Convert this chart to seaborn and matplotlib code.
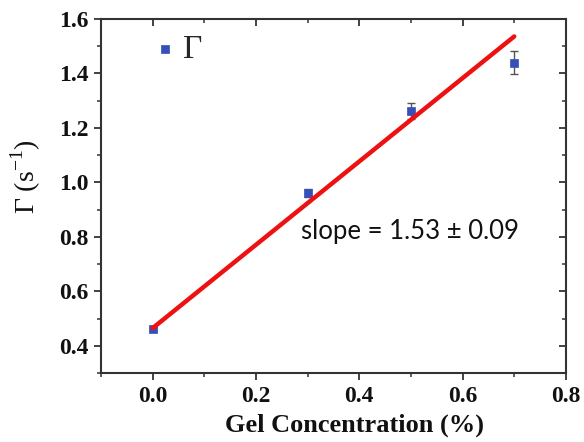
import numpy as np
import pandas as pd
import matplotlib
matplotlib.use("Agg")
import matplotlib.pyplot as plt
import seaborn as sns
from matplotlib.ticker import MultipleLocator

# Relaxation rate vs. gel concentration
gel_conc = [0.0, 0.3, 0.5, 0.7]
gamma = [0.46, 0.961, 1.262, 1.44]
gamma_err = [0.006, 0.015, 0.03, 0.042]

# Linear fit parameters
fit_slope = 1.53
fit_slope_err = 0.09
fit_intercept = 0.465
fit_x = [0.0, 0.7]

sns.set_theme(style="ticks")
plt.rcParams["font.family"] = ["Liberation Serif", "DejaVu Serif"]
plt.rcParams["mathtext.fontset"] = "custom"
plt.rcParams["mathtext.rm"] = "Liberation Serif"
plt.rcParams["axes.unicode_minus"] = False

df = pd.DataFrame({"conc": gel_conc, "gamma": gamma, "err": gamma_err})
fit_df = pd.DataFrame({"conc": fit_x,
                       "gamma": [fit_intercept + fit_slope * x for x in fit_x]})

fig = plt.figure(figsize=(5.84, 4.42), dpi=100)
ax = fig.add_axes([0.173, 0.156, 0.796, 0.801])

point_color = "#3550b8"
ax.errorbar(df["conc"], df["gamma"], yerr=df["err"], fmt="none",
            ecolor="#555555", elinewidth=1.0, capsize=3, capthick=1.0, zorder=2)
sns.scatterplot(data=df, x="conc", y="gamma", marker="s", s=40,
                color=point_color, edgecolor=point_color, linewidth=0.5,
                label="Γ", ax=ax, zorder=3)
sns.lineplot(data=fit_df, x="conc", y="gamma", color="#ee1111",
             linewidth=3.2, ax=ax, zorder=4, legend=False)

ax.set_xlim(-0.1, 0.8)
ax.set_ylim(0.3, 1.6)
ax.xaxis.set_minor_locator(MultipleLocator(0.1))
ax.yaxis.set_minor_locator(MultipleLocator(0.1))
ax.set_xticks([0.0, 0.2, 0.4, 0.6, 0.8])
ax.set_xticklabels(["0.0", "0.2", "0.4", "0.6", "0.8"])
ax.set_yticks([0.4, 0.6, 0.8, 1.0, 1.2, 1.4, 1.6])
ax.set_yticklabels(["0.4", "0.6", "0.8", "1.0", "1.2", "1.4", "1.6"])

spine_color = "#333333"
for side in ["left", "bottom", "top", "right"]:
    ax.spines[side].set_visible(True)
    ax.spines[side].set_color(spine_color)
    ax.spines[side].set_linewidth(1.5)

ax.tick_params(axis="both", which="major", direction="out", length=5,
               width=1.3, color=spine_color, labelsize=17, labelcolor="#111111",
               pad=4)
ax.tick_params(axis="both", which="minor", direction="out", length=3,
               width=1.1, color=spine_color)
for lbl in ax.get_xticklabels() + ax.get_yticklabels():
    lbl.set_fontweight("bold")

# Mirrored inward ticks on top and right
top = ax.secondary_xaxis("top")
top.xaxis.set_major_locator(MultipleLocator(0.2))
top.xaxis.set_minor_locator(MultipleLocator(0.1))
top.tick_params(which="major", direction="in", length=5, width=1.3,
                color=spine_color, labeltop=False)
top.tick_params(which="minor", direction="in", length=3, width=1.1,
                color=spine_color)
top.spines["top"].set_visible(False)
right = ax.secondary_yaxis("right")
right.yaxis.set_major_locator(MultipleLocator(0.2))
right.yaxis.set_minor_locator(MultipleLocator(0.1))
right.tick_params(which="major", direction="in", length=5, width=1.3,
                  color=spine_color, labelright=False)
right.tick_params(which="minor", direction="in", length=3, width=1.1,
                  color=spine_color)
right.spines["right"].set_visible(False)

ax.set_xlabel("Gel Concentration (%)", fontsize=19, fontweight="bold",
              color="#111111")
ax.xaxis.set_label_coords(0.545, -0.115)
ax.set_ylabel(r"Γ (s$^{\mathregular{-1}}$)", fontsize=20, color="#111111")
ax.yaxis.set_label_coords(-0.125, 0.555)

ax.text(0.287, 0.818, f"slope = {fit_slope:.2f} ± {fit_slope_err:.2f}",
        fontsize=18.5, family=["Lato", "DejaVu Sans"], color="#111111",
        va="center", ha="left")

leg = ax.legend(loc="upper left", frameon=False, fontsize=24,
                handlelength=0.5, handletextpad=0.3, borderaxespad=0.0,
                bbox_to_anchor=(0.09, 0.995))

fig.savefig("out.png", dpi=100)
